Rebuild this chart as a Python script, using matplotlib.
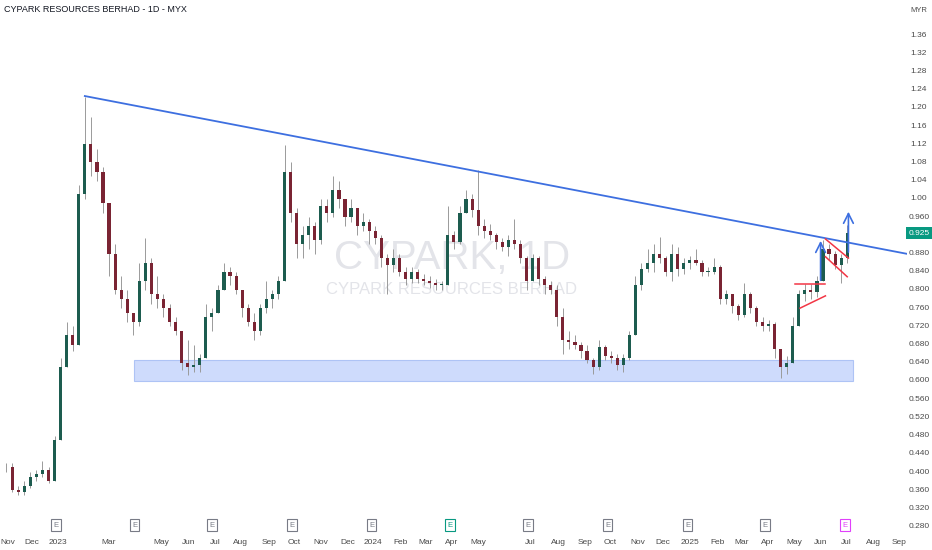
import numpy as np
import pandas as pd
import matplotlib
matplotlib.use("Agg")
import matplotlib.pyplot as plt
from matplotlib.patches import Rectangle
import matplotlib.transforms as mtransforms

plt.rcParams['font.family'] = ['Liberation Sans', 'DejaVu Sans']

# weekly candles, first week starts on this Monday
first_week = "2022-10-31"

opens = [0.41, 0.41, 0.36, 0.355, 0.37, 0.39, 0.395, 0.405, 0.38, 0.47,
         0.63, 0.70, 0.68, 1.01, 1.12, 1.08, 1.06, 0.99, 0.88, 0.80,
         0.78, 0.75, 0.73, 0.82, 0.86, 0.79, 0.78, 0.76, 0.73, 0.71,
         0.64, 0.63, 0.635, 0.65, 0.74, 0.75, 0.80, 0.84, 0.83, 0.80,
         0.76, 0.73, 0.71, 0.76, 0.78, 0.79, 0.82, 1.06, 0.97, 0.90,
         0.92, 0.94, 0.91, 0.985, 0.97, 1.02, 1.00, 0.96, 0.98, 0.94,
         0.95, 0.93, 0.915, 0.87, 0.855, 0.87, 0.84, 0.825, 0.84, 0.825,
         0.82, 0.815, 0.81, 0.81, 0.92, 0.905, 0.97, 1.00, 0.975, 0.94,
         0.93, 0.92, 0.905, 0.895, 0.91, 0.90, 0.87, 0.82, 0.87, 0.825,
         0.81, 0.80, 0.74, 0.69, 0.685, 0.68, 0.665, 0.645, 0.63, 0.675,
         0.655, 0.65, 0.635, 0.65, 0.70, 0.81, 0.845, 0.86, 0.88, 0.87,
         0.84, 0.88, 0.845, 0.86, 0.865, 0.86, 0.84, 0.84, 0.85, 0.78,
         0.79, 0.765, 0.745, 0.79, 0.76, 0.73, 0.72, 0.725, 0.67, 0.63,
         0.64, 0.72, 0.79, 0.80, 0.795, 0.82, 0.89, 0.88, 0.855, 0.87]
highs = [0.42, 0.42, 0.37, 0.38, 0.40, 0.405, 0.425, 0.41, 0.48, 0.65,
         0.73, 0.72, 1.03, 1.224, 1.18, 1.11, 1.07, 0.99, 0.90, 0.83,
         0.80, 0.75, 0.86, 0.915, 0.87, 0.83, 0.79, 0.77, 0.74, 0.71,
         0.69, 0.68, 0.66, 0.77, 0.76, 0.81, 0.86, 0.85, 0.84, 0.80,
         0.77, 0.75, 0.77, 0.82, 0.80, 0.83, 1.119, 1.08, 0.98, 0.94,
         0.96, 0.95, 1.00, 1.00, 1.05, 1.04, 1.00, 1.00, 0.98, 0.97,
         0.955, 0.94, 0.92, 0.88, 0.89, 0.88, 0.85, 0.85, 0.845, 0.835,
         0.83, 0.825, 0.82, 0.985, 0.93, 0.985, 1.02, 1.01, 1.064, 0.955,
         0.945, 0.925, 0.915, 0.92, 0.955, 0.91, 0.875, 0.88, 0.875, 0.83,
         0.82, 0.81, 0.76, 0.71, 0.70, 0.685, 0.68, 0.65, 0.69, 0.68,
         0.665, 0.66, 0.66, 0.71, 0.83, 0.86, 0.89, 0.90, 0.917, 0.875,
         0.90, 0.895, 0.87, 0.875, 0.89, 0.865, 0.85, 0.87, 0.855, 0.80,
         0.79, 0.77, 0.815, 0.795, 0.765, 0.74, 0.735, 0.73, 0.67, 0.655,
         0.74, 0.80, 0.813, 0.813, 0.83, 0.91, 0.90, 0.885, 0.88, 0.943]
lows = [0.40, 0.355, 0.35, 0.35, 0.365, 0.38, 0.39, 0.375, 0.38, 0.47,
        0.63, 0.665, 0.68, 1.00, 1.05, 1.04, 0.97, 0.83, 0.79, 0.76,
        0.73, 0.70, 0.72, 0.80, 0.77, 0.76, 0.74, 0.72, 0.70, 0.625,
        0.613, 0.62, 0.62, 0.65, 0.71, 0.75, 0.80, 0.81, 0.79, 0.74,
        0.72, 0.69, 0.70, 0.75, 0.76, 0.78, 0.82, 0.95, 0.87, 0.87,
        0.89, 0.88, 0.90, 0.95, 0.96, 0.98, 0.94, 0.95, 0.92, 0.93,
        0.90, 0.90, 0.85, 0.79, 0.84, 0.83, 0.81, 0.815, 0.815, 0.81,
        0.805, 0.80, 0.80, 0.81, 0.89, 0.90, 0.97, 0.96, 0.92, 0.915,
        0.91, 0.89, 0.885, 0.875, 0.89, 0.86, 0.80, 0.82, 0.81, 0.79,
        0.79, 0.72, 0.66, 0.67, 0.67, 0.65, 0.64, 0.615, 0.625, 0.645,
        0.64, 0.625, 0.62, 0.645, 0.70, 0.80, 0.84, 0.84, 0.86, 0.83,
        0.82, 0.83, 0.835, 0.845, 0.855, 0.83, 0.83, 0.835, 0.77, 0.77,
        0.75, 0.735, 0.74, 0.75, 0.72, 0.71, 0.71, 0.65, 0.607, 0.615,
        0.64, 0.72, 0.775, 0.78, 0.785, 0.82, 0.865, 0.845, 0.815, 0.86]
closes = [0.41, 0.36, 0.355, 0.37, 0.39, 0.395, 0.405, 0.38, 0.47, 0.63,
          0.70, 0.68, 1.01, 1.12, 1.08, 1.06, 0.99, 0.88, 0.80, 0.78,
          0.75, 0.73, 0.82, 0.86, 0.79, 0.78, 0.76, 0.73, 0.71, 0.64,
          0.63, 0.635, 0.65, 0.74, 0.75, 0.80, 0.84, 0.83, 0.80, 0.76,
          0.73, 0.71, 0.76, 0.78, 0.79, 0.82, 1.06, 0.97, 0.90, 0.92,
          0.94, 0.91, 0.985, 0.97, 1.02, 1.00, 0.96, 0.98, 0.94, 0.95,
          0.93, 0.915, 0.87, 0.855, 0.87, 0.84, 0.825, 0.84, 0.825, 0.82,
          0.815, 0.81, 0.81, 0.92, 0.905, 0.97, 1.00, 0.975, 0.94, 0.93,
          0.92, 0.905, 0.895, 0.91, 0.90, 0.87, 0.82, 0.87, 0.825, 0.81,
          0.80, 0.74, 0.69, 0.685, 0.68, 0.665, 0.645, 0.63, 0.675, 0.655,
          0.65, 0.635, 0.65, 0.70, 0.81, 0.845, 0.86, 0.88, 0.87, 0.84,
          0.88, 0.845, 0.86, 0.865, 0.86, 0.84, 0.84, 0.85, 0.78, 0.79,
          0.765, 0.745, 0.79, 0.76, 0.73, 0.72, 0.725, 0.67, 0.63, 0.64,
          0.72, 0.79, 0.80, 0.795, 0.82, 0.89, 0.88, 0.855, 0.87, 0.925]

# time axis labels (first trading day of month)
month_dates = ["2022-11", "2022-12", "2023-01", "2023-03", "2023-05", "2023-06",
               "2023-07", "2023-08", "2023-09", "2023-10", "2023-11", "2023-12",
               "2024-01", "2024-02", "2024-03", "2024-04", "2024-05", "2024-07",
               "2024-08", "2024-09", "2024-10", "2024-11", "2024-12", "2025-01",
               "2025-02", "2025-03", "2025-04", "2025-05", "2025-06", "2025-07",
               "2025-08", "2025-09"]
month_labels = ["Nov", "Dec", "2023", "Mar", "May", "Jun", "Jul", "Aug", "Sep",
                "Oct", "Nov", "Dec", "2024", "Feb", "Mar", "Apr", "May", "Jul",
                "Aug", "Sep", "Oct", "Nov", "Dec", "2025", "Feb", "Mar", "Apr",
                "May", "Jun", "Jul", "Aug", "Sep"]

earnings_dates = ["2022-12-29", "2023-03-30", "2023-06-28", "2023-09-28",
                  "2023-12-29", "2024-03-29", "2024-06-27", "2024-09-27",
                  "2024-12-30", "2025-03-28", "2025-06-30"]
earnings_colors = ["#787b86"] * 5 + ["#089981"] + ["#787b86"] * 4 + ["#e040fb"]

# drawings (date, price)
trend_line = [("2023-02-01", 1.226), ("2025-09-10", 0.879)]
support_zone = ("2023-03-30", "2025-07-09", 0.600, 0.646)
red_top = [("2025-05-02", 0.813), ("2025-06-06", 0.813)]
red_low = [("2025-05-08", 0.760), ("2025-06-06", 0.787)]
flag_up = [("2025-06-06", 0.912), ("2025-07-03", 0.870)]
flag_dn = [("2025-06-06", 0.873), ("2025-07-02", 0.829)]
arrow_1 = ("2025-06-02", 0.815, 0.914)
arrow_2 = ("2025-07-03", 0.877, 0.978)
last_price = 0.925

price_ticks = [0.28, 0.32, 0.36, 0.40, 0.44, 0.48, 0.52, 0.56, 0.60, 0.64, 0.68,
               0.72, 0.76, 0.80, 0.84, 0.88, 0.96, 1.00, 1.04, 1.08, 1.12,
               1.16, 1.20, 1.24, 1.28, 1.32, 1.36]

bdays = pd.bdate_range(first_week, "2025-10-31")


def pos(d):
    return bdays.searchsorted(pd.Timestamp(d))


fig = plt.figure(figsize=(9.32, 5.5), dpi=100)
fig.patch.set_facecolor("white")
ax = fig.add_axes([0, 17 / 550, 907 / 932, 533 / 550])
ax.set_xlim(-3.1, 746.4)
ax.set_ylim(0.266, 1.437)
ax.axis("off")

o = np.array(opens)
h = np.array(highs)
l = np.array(lows)
c = np.array(closes)
x = np.arange(len(c)) * 5 + 2
up = c >= o
body_col = np.where(up, "#1d5c4f", "#7a2433")

ax.vlines(x, l, h, color="#9a9a9a", lw=0.7, zorder=3)
ax.bar(x, np.maximum(np.abs(c - o), 0.002), bottom=np.minimum(o, c), width=2.6,
       color=body_col, zorder=4, linewidth=0)

# watermark
ax.text(0.498, 0.516, "CYPARK, 1D", transform=ax.transAxes, ha="center", va="center",
        fontsize=29, color="#e3e4e9", zorder=1)
ax.text(0.498, 0.456, "CYPARK RESOURCES BERHAD", transform=ax.transAxes, ha="center",
        va="center", fontsize=12, color="#e3e4e9", zorder=1)

# support zone
x0, x1, p0, p1 = support_zone
ax.add_patch(Rectangle((pos(x0), p0), pos(x1) - pos(x0), p1 - p0, facecolor="#c9d7fc",
                       edgecolor="#a8bff5", lw=0.8, alpha=0.9, zorder=2))

# trend line
(d0, v0), (d1, v1) = trend_line
ax.plot([pos(d0), pos(d1)], [v0, v1], color="#3d6fe0", lw=1.3, zorder=5)

for seg in (red_top, red_low, flag_up, flag_dn):
    ax.plot([pos(seg[0][0]), pos(seg[1][0])], [seg[0][1], seg[1][1]],
            color="#f23645", lw=1.1, zorder=5)

for d, a, b in (arrow_1, arrow_2):
    ax.annotate("", xy=(pos(d), b), xytext=(pos(d), a),
                arrowprops=dict(arrowstyle="->,head_length=0.7,head_width=0.35",
                                color="#3d6fe0", lw=1.2), zorder=6)

# price scale
blend = mtransforms.blended_transform_factory(ax.transAxes, ax.transData)
for t in price_ticks:
    lab = f"{t:.2f}" if t >= 1 else f"{t:.3f}"
    ax.text(919 / 907, t, lab, transform=blend, ha="center", va="center",
            fontsize=6, color="#4a4a4a", clip_on=False)
ax.text(919 / 907, last_price, f"{last_price:.3f}", transform=blend, ha="center",
        va="center", fontsize=6, color="white", clip_on=False, zorder=7,
        bbox=dict(boxstyle="square,pad=0.25", facecolor="#089981", edgecolor="none"))
fig.text(919 / 932, 1 - 11 / 550, "MYR", ha="center", va="center", fontsize=5.5,
         color="#4a4a4a")

# time scale
blend_x = mtransforms.blended_transform_factory(ax.transData, ax.transAxes)
for i, (d, lab) in enumerate(zip(month_dates, month_labels)):
    xp = pos(d + "-01")
    ha = "center"
    if i == 0:
        xp, ha = -2.8, "left"   # keep the first label inside the picture
    ax.text(xp, -0.0169, lab, transform=blend_x, ha=ha, va="center",
            fontsize=6, color="#4a4a4a", clip_on=False)

for d, col in zip(earnings_dates, earnings_colors):
    ax.text(pos(d), 0.015, "E", transform=blend_x, ha="center", va="center",
            fontsize=5.5, color=col, clip_on=False,
            bbox=dict(boxstyle="square,pad=0.3", facecolor="white", edgecolor=col, lw=0.8))

fig.text(4 / 932, 1 - 10 / 550, "CYPARK RESOURCES BERHAD - 1D - MYX", ha="left",
         va="center", fontsize=6.5, color="#131722")

fig.savefig("out.png", dpi=100, facecolor="white")
